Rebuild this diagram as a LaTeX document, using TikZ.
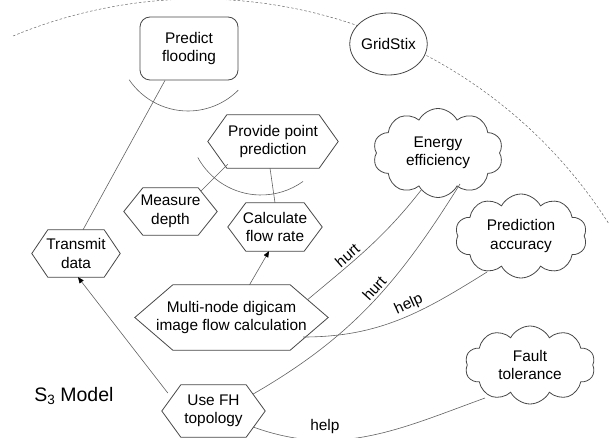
\documentclass[tikz,border=0pt]{standalone}
\usepackage{fontspec}
\setmainfont{Liberation Sans}
\usetikzlibrary{shapes.geometric,shapes.symbols,arrows.meta,calc}

\tikzset{
  every node/.style={font=\fontsize{15.4}{18.5}\selectfont, align=center, text=black},
  outline/.style={draw=black!72, line width=0.8pt},
  hexbox/.style={inner sep=0pt},
  goalbox/.style={outline, rounded corners=10pt, minimum width=98pt, minimum height=63pt, inner sep=0pt},
  softgoal/.style={outline, cloud, cloud puffs=10, cloud puff arc=125, cloud ignores aspect, inner sep=0pt},
  agent/.style={outline, ellipse, fill=white, minimum width=69pt, minimum height=62pt, inner sep=0pt},
  conn/.style={draw=black!62, line width=0.6pt},
  arrowconn/.style={conn, -{Triangle[length=6pt,width=5pt,color=black]}},
  boundary/.style={draw=black!60, line width=0.5pt, dash pattern=on 2.5pt off 2pt},
  contrib/.style={sloped, above, inner sep=2.5pt}
}

% hexagonal task outline around a rectangular node, with a given slant
\newcommand{\hexborder}[2]{%
  \draw[outline] ([xshift=#2]#1.north west) -- ([xshift=-#2]#1.north east) -- (#1.east)
    -- ([xshift=-#2]#1.south east) -- ([xshift=#2]#1.south west) -- (#1.west) -- cycle;}

\begin{document}
\begin{tikzpicture}[x=1pt,y=1pt]
  \useasboundingbox (0,0) rectangle (609,-438);

  % system boundary
  \draw[boundary] ($(199,-485)+(112.5:486)$) arc[start angle=112.5, end angle=30, radius=486];

  % goals and tasks
  \node[goalbox] (pf) at (189,-48.5) {Predict\\flooding};
  \node[agent] (gs) at (388.5,-44) {GridStix};

  \node[hexbox, minimum width=130pt, minimum height=53pt] (pp) at (273,-141.5) {Provide point\\prediction};
  \hexborder{pp}{19}
  \node[hexbox, minimum width=93pt, minimum height=47pt] (md) at (170.5,-211.5) {Measure\\depth};
  \hexborder{md}{19}
  \node[hexbox, minimum width=94pt, minimum height=48pt] (cf) at (275,-227) {Calculate\\flow rate};
  \hexborder{cf}{18}
  \node[hexbox, minimum width=88pt, minimum height=47pt] (td) at (76,-253.5) {Transmit\\data};
  \hexborder{td}{16}
  \node[hexbox, minimum width=193pt, minimum height=65pt] (mn) at (231.5,-317.5) {Multi-node digicam\\image flow calculation};
  \hexborder{mn}{38}
  \node[hexbox, minimum width=103pt, minimum height=52pt] (fh) at (213.5,-411) {Use FH\\topology};
  \hexborder{fh}{19}

  % softgoals
  \node[softgoal, minimum width=130pt, minimum height=89pt] (ee) at (438,-153) {Energy\\efficiency};
  \node[softgoal, minimum width=132pt, minimum height=84pt] (pa) at (521,-236) {Prediction\\accuracy};
  \node[softgoal, minimum width=130pt, minimum height=78pt] (ft) at (530,-365) {Fault\\tolerance};

  % decomposition arcs
  \draw[conn] ($(188,-40)+(214:71)$) arc[start angle=214, end angle=315, radius=71];
  \draw[conn] ($(261,-123)+(208.6:72)$) arc[start angle=208.6, end angle=305.7, radius=72];

  % decomposition links
  \draw[conn] ([xshift=7]td.north) -- ([xshift=-24]pf.south);
  \draw[conn] ([xshift=-16,yshift=-3]md.north east) -- ([xshift=20,yshift=4]pp.south west);
  \draw[conn] ([xshift=-3]pp.south) -- (cf.north);

  % means-end links
  \draw[arrowconn] ([xshift=18]mn.north) -- ([xshift=-6]cf.south);
  \draw[arrowconn] ([xshift=6,yshift=18]fh.west) -- ([xshift=2]td.south);

  % contributions
  \draw[conn] ([xshift=-21,yshift=17.5]mn.east) to[out=40, in=232]
    node[contrib, pos=0.36] {hurt} ([shift={(-16,-36)}]ee.center);
  \draw[conn] ([xshift=-12,yshift=17]fh.east) to[out=30, in=238]
    node[contrib, pos=0.55] {hurt} ([shift={(22,-31)}]ee.center);
  \draw[conn] ([xshift=-25,yshift=-19.5]mn.east) to[out=0, in=212]
    node[contrib, pos=0.58] {help} ([shift={(-34,-36)}]pa.center);
  \draw[conn] ([xshift=-12,yshift=-16]fh.east) to[out=-20, in=200]
    node[contrib, pos=0.3, above=4pt] {help} ([shift={(-45,-33)}]ft.center);

  % model label
  \node (lbl) at (74,-396) {\fontsize{19.5}{22}\selectfont S\raisebox{-3pt}{\fontsize{13.5}{14}\selectfont 3} Model};
\end{tikzpicture}
\end{document}
